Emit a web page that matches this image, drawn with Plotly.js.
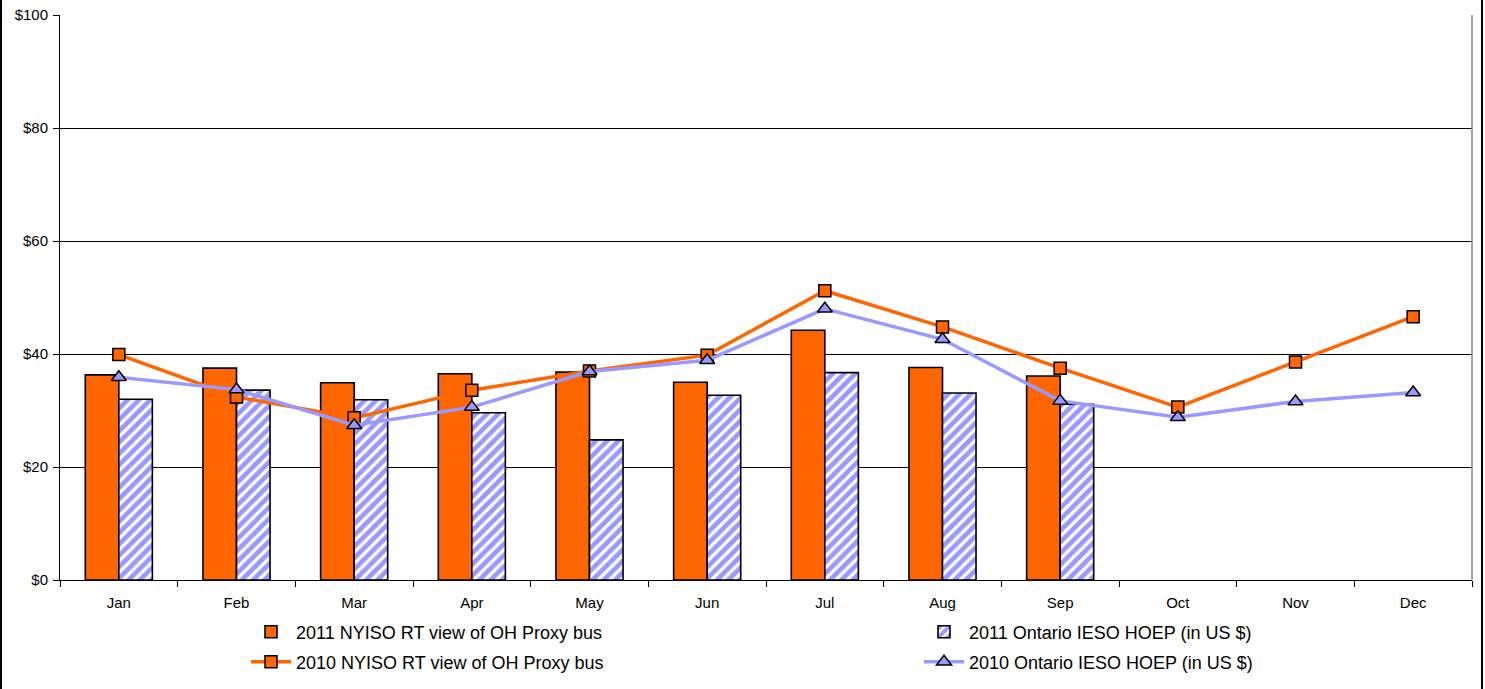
<!DOCTYPE html>
<html>
<head>
<meta charset="utf-8">
<script src="https://cdn.plot.ly/plotly-3.0.1.min.js"></script>
<style>
  html, body { margin: 0; padding: 0; background: #fff; }
  #chart { width: 1485px; height: 689px; }
</style>
</head>
<body>
<div id="chart"></div>
<script>
const months = ["Jan","Feb","Mar","Apr","May","Jun","Jul","Aug","Sep","Oct","Nov","Dec"];
const nyiso2011 = [36.3, 37.5, 34.9, 36.5, 36.8, 35.0, 44.2, 37.6, 36.1, null, null, null];
const ontario2011 = [32.0, 33.6, 31.9, 29.6, 24.8, 32.7, 36.7, 33.1, 31.1, null, null, null];
const nyiso2010 = [39.9, 32.4, 28.7, 33.6, 37.0, 39.8, 51.2, 44.8, 37.5, 30.6, 38.6, 46.6];
const ontario2010 = [35.9, 33.7, 27.4, 30.6, 36.9, 38.9, 48.0, 42.6, 31.7, 28.8, 31.6, 33.2];
const seriesNames = [
  "2011 NYISO RT view of OH Proxy bus",
  "2011 Ontario IESO HOEP (in US $)",
  "2010 NYISO RT view of OH Proxy bus",
  "2010 Ontario IESO HOEP (in US $)"
];

const ORANGE = "#ff6600";
const BLUE = "#9999ff";

const traces = [
  {
    type: "bar", x: months, y: nyiso2011, name: seriesNames[0],
    marker: { color: ORANGE, line: { color: "#000", width: 1.6 } },
    legend: "legend", hoverinfo: "y"
  },
  {
    type: "bar", x: months, y: ontario2011, name: seriesNames[1],
    marker: { color: "#ffffff", line: { color: "#000", width: 1.6 },
      pattern: { shape: "/", fgcolor: BLUE, bgcolor: "#ffffff", size: 8, solidity: 0.6 } },
    legend: "legend2", hoverinfo: "y"
  },
  {
    type: "scatter", mode: "lines+markers", x: months, y: nyiso2010, name: seriesNames[2],
    line: { color: ORANGE, width: 3.5 },
    marker: { symbol: "square", size: 12, color: ORANGE, line: { color: "#000", width: 1.5 } },
    legend: "legend3"
  },
  {
    type: "scatter", mode: "lines+markers", x: months, y: ontario2010, name: seriesNames[3],
    line: { color: BLUE, width: 3.5 },
    marker: { symbol: "triangle-up", size: 13, color: BLUE, line: { color: "#000", width: 1.5 } },
    legend: "legend4"
  }
];

function mkLegend(xpx, ypx) {
  return {
    orientation: "h",
    xref: "container", yref: "container",
    x: xpx / 1485, xanchor: "left",
    y: 1 - ypx / 689, yanchor: "middle",
    font: { family: "Arial, Liberation Sans, sans-serif", size: 18, color: "#000" },
    bgcolor: "rgba(0,0,0,0)",
    itemwidth: 40
  };
}

const layout = {
  width: 1485, height: 689,
  margin: { l: 60, r: 13, t: 15, b: 109 },
  paper_bgcolor: "#ffffff",
  plot_bgcolor: "#ffffff",
  font: { family: "Arial, Liberation Sans, sans-serif", size: 15, color: "#000" },
  barmode: "group",
  bargap: 0.43,
  bargroupgap: 0,
  showlegend: true,
  legend: mkLegend(246, 632),
  legend2: mkLegend(919, 632),
  legend3: mkLegend(246, 662),
  legend4: mkLegend(919, 662),
  xaxis: {
    type: "category",
    range: [-0.5, 11.5],
    showgrid: false,
    showline: true, linecolor: "#000", linewidth: 1,
    ticks: "outside", tickson: "boundaries", ticklen: 6, tickcolor: "#000",
    ticklabelstandoff: 9,
    tickfont: { size: 15 },
    zeroline: false,
    fixedrange: true
  },
  yaxis: {
    range: [0, 100], dtick: 20, tick0: 0,
    tickprefix: "$",
    showgrid: true, gridcolor: "#000", gridwidth: 1,
    showline: true, linecolor: "#000", linewidth: 1,
    ticks: "outside", ticklen: 6, tickcolor: "#000",
    ticklabelstandoff: 2,
    tickfont: { size: 15 },
    zeroline: false,
    fixedrange: true
  },
  shapes: [
    { type: "line", xref: "paper", yref: "paper", x0: 1, x1: 1, y0: 0, y1: 1,
      line: { color: "#888", width: 1.5 } },
    { type: "rect", xref: "paper", yref: "paper",
      x0: (1 - 60) / 1412, x1: (1482 - 60) / 1412,
      y0: -200 / 565, y1: 1 + 20 / 565,
      line: { color: "#000", width: 2 }, fillcolor: "rgba(0,0,0,0)" }
  ]
};

Plotly.newPlot("chart", traces, layout, { displayModeBar: false, staticPlot: true });
</script>
</body>
</html>
